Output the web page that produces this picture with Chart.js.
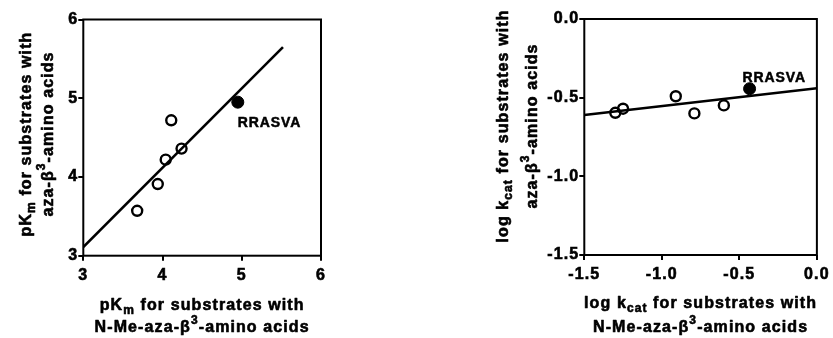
<!DOCTYPE html>
<html><head><meta charset="utf-8">
<script src="https://cdn.jsdelivr.net/npm/chart.js@4/dist/chart.umd.min.js"></script>
<style>
html,body{margin:0;padding:0;background:#fff;}
#wrap{position:relative;width:833px;height:338px;overflow:hidden;}
.c{position:absolute;top:0;height:338px;}
</style></head><body>
<div id="wrap">
<div class="c" style="left:0;width:416px"><canvas id="left"></canvas></div>
<div class="c" style="left:416px;width:417px"><canvas id="right"></canvas></div>
</div>
<script>
// ---------- data ----------
// Left panel: pKm
const pkmNMe = [3.68, 3.94, 4.04, 4.11, 4.24];
const pkmAza = [3.57, 3.91, 4.22, 4.72, 4.36];
const pkmRefNMe = [4.95];
const pkmRefAza = [4.95];
const pkmFitX = [3.0, 5.52];
const pkmFitY = [3.11, 5.65];
const pkmTicks = [3, 4, 5, 6];
const pkmTickLabels = ['3', '4', '5', '6'];

// Right panel: log kcat
const kcatNMe = [-1.30, -1.25, -0.91, -0.79, -0.60];
const kcatAza = [-0.596, -0.570, -0.491, -0.600, -0.549];
const kcatRefNMe = [-0.434];
const kcatRefAza = [-0.443];
const kcatFitX = [-1.5, 0.0];
const kcatFitY = [-0.61, -0.44];
const kcatTicks = [-1.5, -1.0, -0.5, 0.0];
const kcatTickLabels = ['-1.5', '-1.0', '-0.5', '0.0'];

const refLabel = 'RRASVA';

// Axis titles: [text, kind] segments, kind '' | 'sub' | 'sup'
const pkmXTitle = [[['pK',''],['m','sub'],[' for substrates with','']],
                   [['N-Me-aza-β',''],['3','sup'],['-amino acids','']]];
const pkmYTitle = [[['pK',''],['m','sub'],[' for substrates with','']],
                   [['aza-β',''],['3','sup'],['-amino acids','']]];
const kcatXTitle = [[['log k',''],['cat','sub'],[' for substrates with','']],
                    [['N-Me-aza-β',''],['3','sup'],['-amino acids','']]];
const kcatYTitle = [[['log k',''],['cat','sub'],[' for substrates with','']],
                    [['aza-β',''],['3','sup'],['-amino acids','']]];

// ---------- helpers ----------
const FAM = '"Liberation Sans", Arial, Helvetica, sans-serif';
const SPACING = '1.1px';
const STROKE = 0.6;

function drawRich(ctx, segs, cx, baseY, size) {
  let total = 0;
  const parts = segs.map(([t, k]) => {
    const fs = k ? Math.round(size * 0.72) : size;
    ctx.font = `bold ${fs}px ${FAM}`;
    const w = ctx.measureText(t).width;
    total += w;
    return {t, k, fs, w};
  });
  let x = cx - total / 2;
  ctx.textAlign = 'left';
  ctx.textBaseline = 'alphabetic';
  ctx.strokeStyle = '#000';
  ctx.lineWidth = STROKE;
  ctx.lineJoin = 'round';
  parts.forEach(p => {
    ctx.font = `bold ${p.fs}px ${FAM}`;
    const dy = p.k === 'sub' ? 4 : (p.k === 'sup' ? -8 : 0);
    ctx.fillText(p.t, x, baseY + dy);
    ctx.strokeText(p.t, x, baseY + dy);
    x += p.w;
  });
}

function makeChart(id, d) {
  const tickFont = {family: FAM, weight: 'bold', size: 16};
  const axis = (ticks, labels, extra) => Object.assign({
    type: 'linear',
    min: Math.min(...ticks),
    max: Math.max(...ticks),
    afterBuildTicks: s => { s.ticks = ticks.map(v => ({value: v})); },
    ticks: {
      callback: (v) => labels[ticks.indexOf(v)],
      font: tickFont, color: '#000', autoSkip: false, maxRotation: 0, minRotation: 0,
      textStrokeColor: '#000', textStrokeWidth: STROKE
    },
    grid: {drawOnChartArea: false, drawTicks: true, tickLength: 5, color: '#000', lineWidth: 2},
    border: {display: false}
  }, extra);

  const xScale = axis(d.xTicks, d.xLabels, {afterFit: s => { s.height = d.xAxisH; }});
  xScale.ticks.padding = 5;
  const yScale = axis(d.yTicks, d.yLabels, {afterFit: s => { s.width = d.yAxisW; }});
  yScale.ticks.padding = 0;

  const framePlugin = {
    id: 'frameAndText',
    beforeDraw(chart) { chart.ctx.letterSpacing = SPACING; },
    afterDatasetsDraw(chart) {
      const ctx = chart.ctx, a = chart.chartArea;
      ctx.save();
      ctx.strokeStyle = '#000';
      ctx.lineWidth = 2;
      ctx.strokeRect(a.left, a.top, a.right - a.left, a.bottom - a.top);
      // point label next to the reference point
      const meta = chart.getDatasetMeta(2);
      const pt = meta.data[0];
      ctx.fillStyle = '#000';
      ctx.letterSpacing = '0.9px';
      ctx.font = `bold 14px ${FAM}`;
      ctx.textAlign = 'left';
      ctx.textBaseline = 'alphabetic';
      ctx.lineWidth = 0.5;
      ctx.fillText(refLabel, pt.x + d.labelDx, pt.y + d.labelDy);
      ctx.strokeText(refLabel, pt.x + d.labelDx, pt.y + d.labelDy);
      // axis titles
      ctx.letterSpacing = SPACING;
      const cx = (a.left + a.right) / 2;
      d.xTitle.forEach((line, i) => drawRich(ctx, line, cx, a.bottom + d.xTitleOff[i], 16));
      const cy = d.yTitleCenter;
      d.yTitle.forEach((line, i) => {
        ctx.save();
        ctx.translate(a.left - d.yTitleOff[i], cy);
        ctx.rotate(-Math.PI / 2);
        drawRich(ctx, line, 0, 0, 16);
        ctx.restore();
      });
      ctx.restore();
    }
  };

  return new Chart(document.getElementById(id), {
    type: 'scatter',
    data: {
      datasets: [
        {
          type: 'line',
          data: d.fitX.map((x, i) => ({x, y: d.fitY[i]})),
          borderColor: '#000', borderWidth: 2.5, pointRadius: 0, fill: false, tension: 0
        },
        {
          data: d.px.map((x, i) => ({x, y: d.py[i]})),
          pointRadius: 5, pointBorderWidth: 2.4, pointBorderColor: '#000',
          pointBackgroundColor: 'rgba(0,0,0,0)', showLine: false
        },
        {
          data: d.rx.map((x, i) => ({x, y: d.ry[i]})),
          pointRadius: 6, pointBorderWidth: 1, pointBorderColor: '#000',
          pointBackgroundColor: '#000', showLine: false
        }
      ]
    },
    options: {
      responsive: true, maintainAspectRatio: false, animation: false, events: [],
      layout: {padding: d.padding},
      plugins: {legend: {display: false}, tooltip: {enabled: false}},
      scales: {x: xScale, y: yScale}
    },
    plugins: [framePlugin]
  });
}

makeChart('left', {
  px: pkmNMe, py: pkmAza, rx: pkmRefNMe, ry: pkmRefAza, fitX: pkmFitX, fitY: pkmFitY,
  xTicks: pkmTicks, xLabels: pkmTickLabels, yTicks: pkmTicks, yLabels: pkmTickLabels,
  xAxisH: 82.3, yAxisW: 83.3,
  padding: {left: 0, top: 19.5, right: 95, bottom: 0},
  labelDx: 0, labelDy: 25,
  xTitle: pkmXTitle, xTitleOff: [54, 76],
  yTitle: pkmYTitle, yTitleOff: [52, 30], yTitleCenter: 134
});

makeChart('right', {
  px: kcatNMe, py: kcatAza, rx: kcatRefNMe, ry: kcatRefAza, fitX: kcatFitX, fitY: kcatFitY,
  xTicks: kcatTicks, xLabels: kcatTickLabels, yTicks: kcatTicks, yLabels: kcatTickLabels,
  xAxisH: 83, yAxisW: 168.3,
  padding: {left: 0, top: 19, right: 13, bottom: 0},
  labelDx: -7, labelDy: -7,
  xTitle: kcatXTitle, xTitleOff: [53, 77],
  yTitle: kcatYTitle, yTitleOff: [76, 47], yTitleCenter: 126
});
</script>
</body></html>
